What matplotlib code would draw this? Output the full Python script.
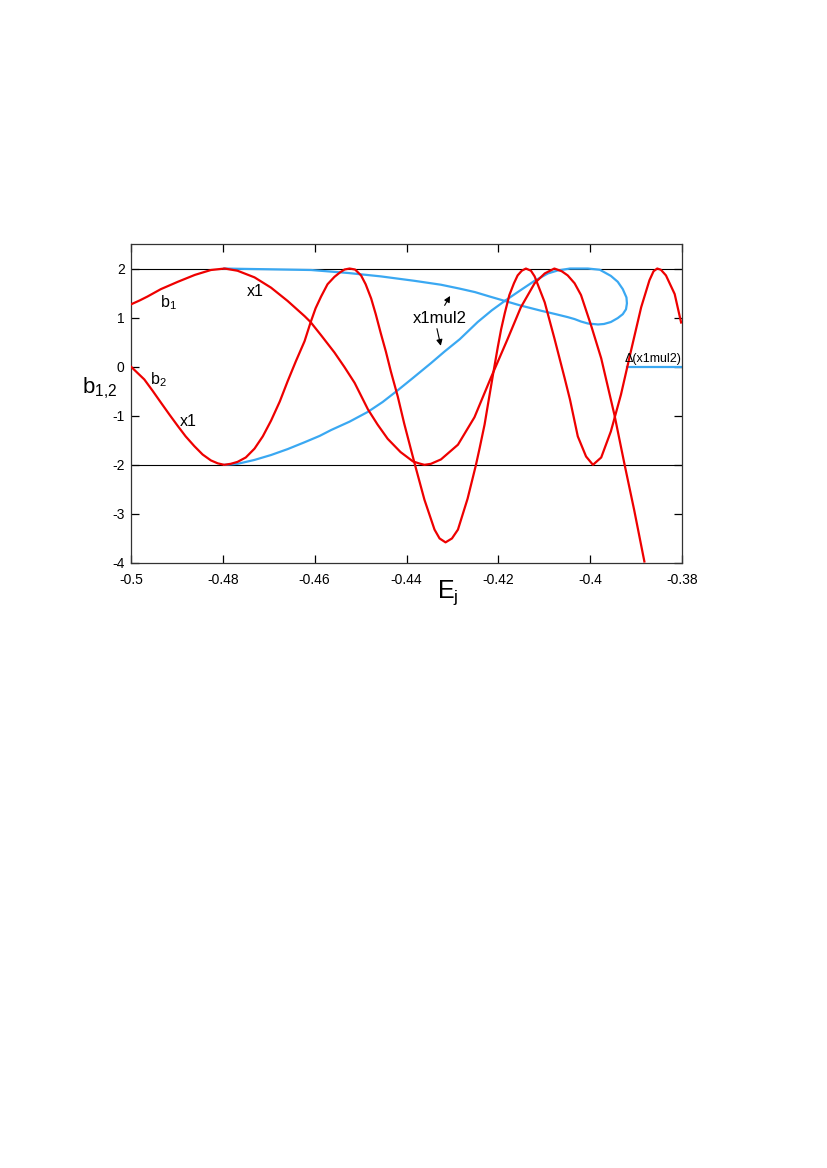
import matplotlib.pyplot as plt

plt.rcParams['font.family'] = ['Liberation Sans', 'DejaVu Sans']
plt.rcParams['axes.unicode_minus'] = False

# b1 branch (x1)
b1_E = [-0.5, -0.4981, -0.4964, -0.4935, -0.4898, -0.4861, -0.4826, -0.4796, -0.4768,
        -0.4731, -0.4695, -0.4659, -0.4622, -0.4609, -0.4586, -0.4557, -0.4535, -0.4513,
        -0.4484, -0.4463, -0.4441, -0.4413, -0.4386, -0.4373, -0.4361, -0.4347, -0.4325,
        -0.4288, -0.4252, -0.4216, -0.4180, -0.4151, -0.4121, -0.4099, -0.4078, -0.4062,
        -0.4049, -0.4034, -0.4020, -0.3998, -0.3976, -0.3947, -0.3925, -0.3904, -0.3882]
b1_val = [1.27, 1.35, 1.43, 1.58, 1.73, 1.87, 1.97, 2.0, 1.955,
          1.82, 1.61, 1.34, 1.03, 0.91, 0.64, 0.29, -0.01, -0.33,
          -0.87, -1.18, -1.47, -1.74, -1.93, -1.97, -2.0, -1.98, -1.89,
          -1.59, -1.03, -0.22, 0.56, 1.21, 1.70, 1.90, 2.0, 1.945,
          1.86, 1.70, 1.46, 0.84, 0.17, -0.99, -2.0, -2.93, -3.97]

# b2 branch (x1)
b2_E = [-0.5, -0.4971, -0.4953, -0.4935, -0.4916, -0.4898, -0.4881, -0.4862, -0.4844,
        -0.4826, -0.4811, -0.4797, -0.4783, -0.4768, -0.4750, -0.4731, -0.4713, -0.4695,
        -0.4676, -0.4659, -0.4641, -0.4622, -0.4609, -0.4598, -0.4586, -0.4572, -0.4557,
        -0.4545, -0.4535, -0.4524, -0.4512, -0.4499, -0.4489, -0.4477, -0.4467, -0.4456,
        -0.4445, -0.4434, -0.4419, -0.4405, -0.4383, -0.4361, -0.4339, -0.4328, -0.4315,
        -0.4301, -0.4288, -0.4267, -0.4249, -0.4241, -0.4230, -0.4223, -0.4212, -0.4201,
        -0.4194, -0.4186, -0.4176, -0.4166, -0.4158, -0.4149, -0.4140, -0.4129, -0.4121,
        -0.4099, -0.4078, -0.4056, -0.4044, -0.4027, -0.4009, -0.3994, -0.3976, -0.3955,
        -0.3933, -0.3911, -0.3889, -0.3871, -0.3862, -0.3854, -0.3846, -0.3835, -0.3816,
        -0.3802]
b2_val = [0.0, -0.26, -0.49, -0.73, -0.98, -1.21, -1.42, -1.62, -1.79,
          -1.91, -1.97, -2.0, -1.98, -1.94, -1.85, -1.67, -1.42, -1.10,
          -0.71, -0.30, 0.11, 0.52, 0.90, 1.19, 1.43, 1.68, 1.83,
          1.92, 1.98, 2.0, 1.98, 1.86, 1.68, 1.39, 1.07, 0.68,
          0.31, -0.10, -0.61, -1.16, -1.95, -2.71, -3.32, -3.50, -3.58,
          -3.50, -3.32, -2.69, -2.01, -1.67, -1.18, -0.79, -0.18, 0.41,
          0.76, 1.09, 1.46, 1.70, 1.86, 1.955, 2.0, 1.955, 1.84,
          1.31, 0.58, -0.22, -0.67, -1.42, -1.83, -2.0, -1.85, -1.32,
          -0.57, 0.33, 1.21, 1.76, 1.945, 2.0, 1.975, 1.86, 1.48,
          0.90]

# x1mul2 branch: lower arm, loop, upper arm
mul_E = [-0.4797, -0.4768, -0.4731, -0.4695, -0.4659, -0.4622, -0.4589, -0.4564, -0.4524,
         -0.4484, -0.4452, -0.4419, -0.4386, -0.4347, -0.4317, -0.4284, -0.4245, -0.4214,
         -0.4186, -0.4153, -0.4121, -0.4092, -0.4071, -0.4044, -0.4005, -0.3979, -0.3955,
         -0.3940, -0.3929, -0.3921, -0.3920, -0.3922, -0.3929, -0.3940, -0.3955, -0.3970,
         -0.3983, -0.4005, -0.4020, -0.4034, -0.4049, -0.4075, -0.4107, -0.4153, -0.4186,
         -0.4219, -0.4251, -0.4284, -0.4325, -0.4383, -0.4456, -0.4528, -0.4608, -0.4702,
         -0.4768, -0.4797]
mul_val = [-2.0, -1.98, -1.90, -1.80, -1.68, -1.54, -1.41, -1.29, -1.12,
           -0.92, -0.72, -0.48, -0.23, 0.07, 0.31, 0.56, 0.91, 1.15,
           1.34, 1.55, 1.75, 1.90, 1.96, 2.0, 2.0, 1.975, 1.85,
           1.73, 1.58, 1.41, 1.29, 1.17, 1.07, 0.99, 0.91, 0.87,
           0.86, 0.88, 0.92, 0.97, 1.01, 1.07, 1.14, 1.25, 1.34,
           1.43, 1.52, 1.59, 1.67, 1.75, 1.84, 1.91, 1.97, 1.985,
           1.995, 2.0]

red = '#ee0000'
blue = '#3aa8f2'

fig = plt.figure(figsize=(8.27, 11.68), dpi=100)
ax = fig.add_axes([0.1584, 0.518, 0.6663, 0.2731])

ax.axhline(2, color='black', lw=0.8, zorder=1)
ax.axhline(-2, color='black', lw=0.8, zorder=1)

ax.plot(mul_E, mul_val, color=blue, lw=1.6, zorder=2, solid_joinstyle='round')
ax.plot(b1_E, b1_val, color=red, lw=1.6, zorder=3, solid_joinstyle='round')
ax.plot(b2_E, b2_val, color=red, lw=1.6, zorder=3, solid_joinstyle='round')

ax.set_xlim(-0.5, -0.38)
ax.set_ylim(-4, 2.5)
ax.set_xticks([-0.5, -0.48, -0.46, -0.44, -0.42, -0.4, -0.38])
ax.set_xticklabels(['-0.5', '-0.48', '-0.46', '-0.44', '-0.42', '-0.4', '-0.38'])
ax.set_yticks([-4, -3, -2, -1, 0, 1, 2])
ax.tick_params(direction='in', top=True, right=True, length=5.5, width=0.9,
               labelsize=10)
ax.tick_params(axis='x', pad=7)
ax.tick_params(axis='y', pad=4.5)
for s in ax.spines.values():
    s.set_color('#333333')
    s.set_linewidth(0.9)

# axis titles
ax.text(0.556, -0.11, r'$\mathregular{E_j}$', fontsize=18, transform=ax.transAxes,
        ha='left', va='baseline')
ax.text(-0.024, 0.533, r'$\mathregular{b_{1{,}2}}$', fontsize=16, transform=ax.transAxes,
        ha='right', va='baseline')

ax.text(-0.4937, 1.2, r'$\mathregular{b_1}$', fontsize=11.5)
ax.text(-0.4747, 1.45, 'x1', fontsize=11.5)
ax.text(-0.4958, -0.35, r'$\mathregular{b_2}$', fontsize=11.5)
ax.text(-0.4893, -1.2, 'x1', fontsize=11.5)

ax.annotate('', xy=(-0.4302, 1.49), xytext=(-0.4320, 1.20),
            arrowprops=dict(arrowstyle='-|>', color='black', lw=0.8, mutation_scale=9))
ax.annotate('', xy=(-0.4324, 0.37), xytext=(-0.4335, 0.83),
            arrowprops=dict(arrowstyle='-|>', color='black', lw=0.8, mutation_scale=9))
ax.text(-0.4327, 0.976, 'x1mul2', fontsize=12, ha='center', va='center')

ax.plot([-0.392, -0.3802], [0.0, 0.0], color=blue, lw=1.6)
ax.text(-0.3802, 0.03, 'Δ(x1mul2)', fontsize=9, ha='right', va='bottom')

fig.savefig('out.png', dpi=100)
